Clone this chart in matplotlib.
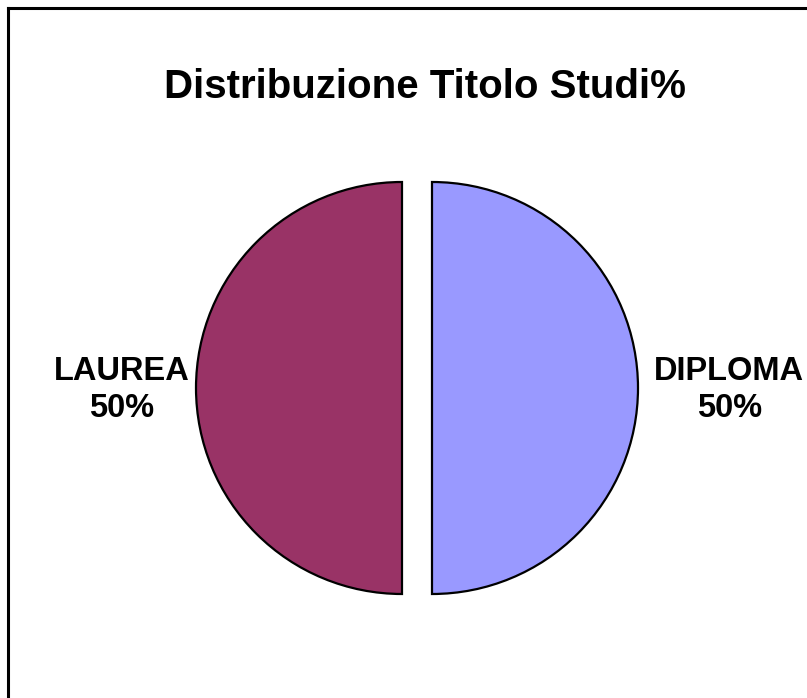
import matplotlib
matplotlib.use("Agg")
import matplotlib.pyplot as plt
from matplotlib.lines import Line2D
import numpy as np

# Dati del grafico
categorie = ["DIPLOMA", "LAUREA"]
valori = [50, 50]
colori = ["#9999FF", "#993366"]
titolo = "Distribuzione Titolo Studi%"

plt.rcParams["font.family"] = ["Liberation Sans", "DejaVu Sans"]

W, H = 807, 698
fig = plt.figure(figsize=(W / 100, H / 100), dpi=100)
ax = fig.add_axes([0, 0, 1, 1])

raggio = 206
# explode in unità dei dati (pixel), qui 15 px per spicchio
wedges, _ = ax.pie(
    valori,
    colors=colori,
    startangle=90,
    counterclock=False,
    center=(417, H - 388),
    radius=raggio,
    explode=[15] * len(valori),
    wedgeprops={"edgecolor": "black", "linewidth": 1.6},
    frame=False,
)
ax.set_xlim(0, W)
ax.set_ylim(0, H)
ax.set_aspect("equal")
ax.axis("off")

# Etichette esterne: nome e percentuale
totale = sum(valori)
for w, c, v in zip(wedges, categorie, valori):
    ang = np.deg2rad((w.theta1 + w.theta2) / 2)
    cx, cy = w.center
    x = cx + 1.055 * raggio * np.cos(ang) + 5
    y = cy + 1.055 * raggio * np.sin(ang)
    ax.text(x, y - 2, f"{c}\n{round(v / totale * 100)}%",
            ha="left" if np.cos(ang) > 0 else "right", va="center",
            multialignment="center", linespacing=1.25,
            fontsize=23.5, fontweight="bold")

ax.text(425, H - 98, titolo, ha="center", va="baseline",
        fontsize=29, fontweight="bold")

# Cornice dell'area del grafico
fig.add_artist(Line2D([8 / W, 8 / W], [0, 1 - 8 / H], color="black", lw=2.2))
fig.add_artist(Line2D([8 / W, 1], [1 - 8 / H, 1 - 8 / H], color="black", lw=2.2))

fig.savefig("out.png", dpi=100)
